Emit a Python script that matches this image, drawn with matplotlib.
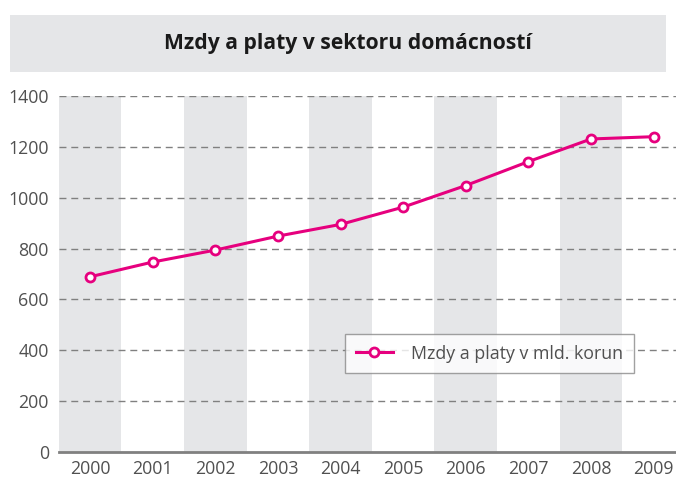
import matplotlib
matplotlib.use("Agg")
import matplotlib.pyplot as plt
from matplotlib.patches import Rectangle

years = ["2000", "2001", "2002", "2003", "2004", "2005", "2006", "2007", "2008", "2009"]
wages = [689, 747, 794, 849, 895, 963, 1048, 1142, 1231, 1240]
yticks = [0, 200, 400, 600, 800, 1000, 1200, 1400]
title = "Mzdy a platy v sektoru domácností"
series_label = "Mzdy a platy v mld. korun"

W, H = 676, 479
plt.rcParams['font.family'] = ['Open Sans', 'DejaVu Sans']
fig = plt.figure(figsize=(W / 100, H / 100), dpi=100)

# title box
fig.patches.append(Rectangle((10 / W, 1 - 72 / H), (666 - 10) / W, (72 - 15) / H,
                             transform=fig.transFigure, facecolor="#E5E6E8",
                             edgecolor="none", zorder=0))
fig.text(348 / W, 1 - 44 / H, title, ha="center", va="center",
         fontsize=15.2, fontweight="bold", color="#1a1a1a")

left, right, top, bottom = 58.7, 685, 96, 452
ax = fig.add_axes([left / W, 1 - bottom / H, (right - left) / W, (bottom - top) / H])
x = list(range(len(years)))
for i in x:
    if i % 2 == 0:
        ax.axvspan(i - 0.5, i + 0.5, color="#E5E6E8", zorder=0, lw=0)

ax.set_xlim(-0.5, len(years) - 0.5)
ax.set_ylim(0, 1400)
ax.set_yticks(yticks)
ax.set_xticks(x)
ax.set_xticklabels(years)
for yv in yticks[1:]:
    ax.axhline(yv, color="#808080", lw=1.0, ls=(0, (5, 3.5)), zorder=1)

ax.plot(x, wages, color="#E6007E", lw=2.2, marker="o", markersize=6.5,
        markerfacecolor="white", markeredgecolor="#E6007E", markeredgewidth=2,
        zorder=3, label=series_label, clip_on=False)

for s in ["top", "right", "left"]:
    ax.spines[s].set_visible(False)
ax.spines["bottom"].set_color("#808080")
ax.spines["bottom"].set_linewidth(2)
ax.tick_params(axis="both", length=0, labelsize=12.8, labelcolor="#505050")
ax.tick_params(axis="x", pad=6)
ax.tick_params(axis="y", pad=7)

leg = ax.legend(loc="upper left", bbox_to_anchor=((345 - left) / (right - left), 1 - (334 - top) / (bottom - top)),
                frameon=True, fancybox=False, fontsize=12.8, borderpad=0.6,
                handlelength=2.1, handletextpad=1.0, borderaxespad=0)
leg.get_frame().set_edgecolor("#8a8a8a")
leg.get_frame().set_linewidth(1)
for t in leg.get_texts():
    t.set_color("#505050")

fig.savefig("out.png", dpi=100)
